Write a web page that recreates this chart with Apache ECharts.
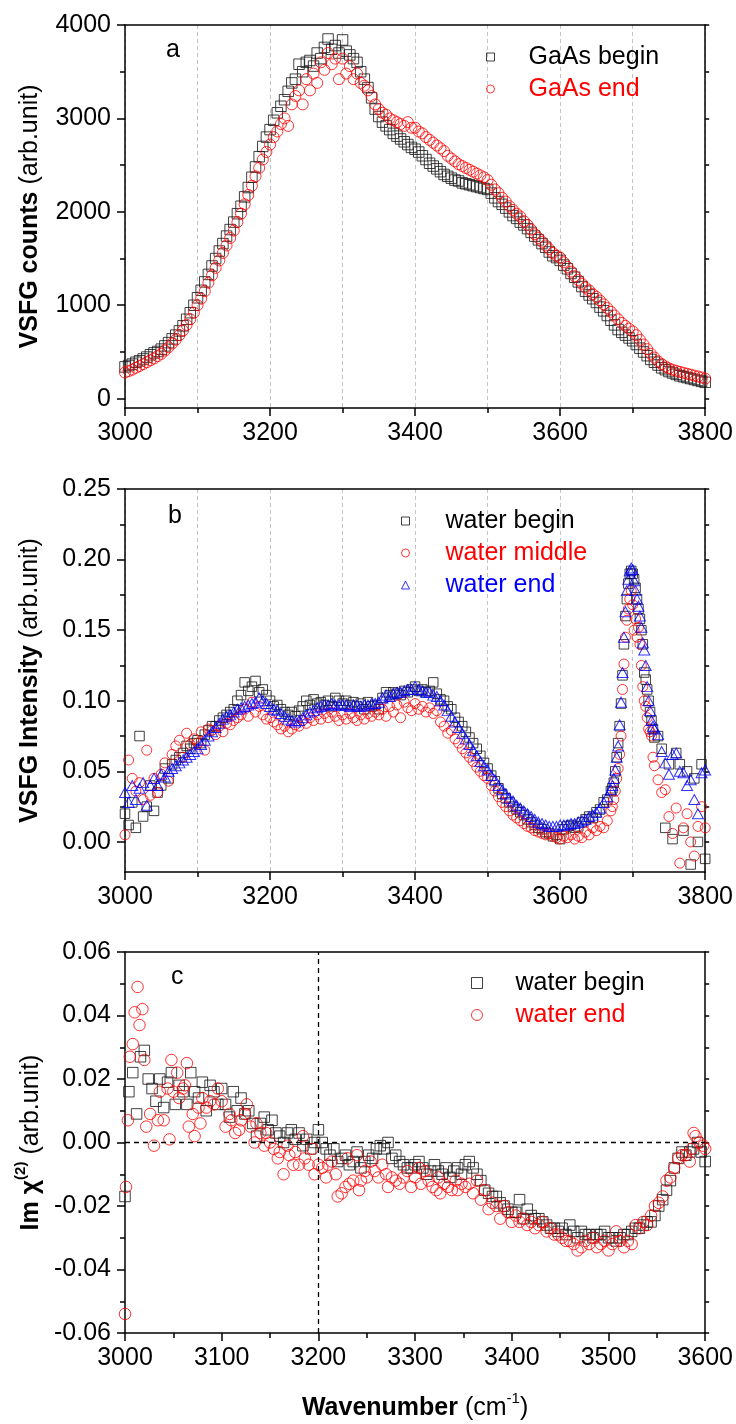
<!DOCTYPE html>
<html><head><meta charset="utf-8">
<script src="https://cdn.jsdelivr.net/npm/echarts@6/dist/echarts.min.js"></script>
<style>html,body{margin:0;padding:0;background:#fff}#c{width:736px;height:1424px}</style>
</head><body><div id="c"></div>
<script>
// ---------- Panel a : GaAs VSFG counts ----------
const waveA = [
3000,3005,3010,3015,3020,3025,3030,3035,3040,3045,3050,3055,3060,3065,3070,3075,3080,3085,3090,3095,
3100,3105,3110,3115,3120,3125,3130,3135,3140,3145,3150,3155,3160,3165,3170,3175,3180,3185,3190,3195,
3200,3205,3210,3215,3220,3225,3230,3235,3240,3245,3250,3255,3260,3265,3270,3275,3280,3285,3290,3295,
3300,3305,3310,3315,3320,3325,3330,3335,3340,3345,3350,3355,3360,3365,3370,3375,3380,3385,3390,3395,
3400,3405,3410,3415,3420,3425,3430,3435,3440,3445,3450,3455,3460,3465,3470,3475,3480,3485,3490,3495,
3500,3505,3510,3515,3520,3525,3530,3535,3540,3545,3550,3555,3560,3565,3570,3575,3580,3585,3590,3595,
3600,3605,3610,3615,3620,3625,3630,3635,3640,3645,3650,3655,3660,3665,3670,3675,3680,3685,3690,3695,
3700,3705,3710,3715,3720,3725,3730,3735,3740,3745,3750,3755,3760,3765,3770,3775,3780,3785,3790,3795,
3800];
const gaasBegin = [
340,355,370,390,405,425,445,470,490,505,530,565,600,640,680,725,780,850,920,1000,
1080,1160,1250,1330,1420,1500,1580,1660,1740,1810,1890,1980,2060,2160,2260,2370,2480,2590,2700,2800,
2880,2980,3060,3130,3200,3290,3380,3420,3580,3500,3600,3620,3560,3700,3640,3760,3850,3740,3780,3700,
3840,3720,3680,3640,3600,3500,3420,3330,3220,3100,3020,2960,2920,2880,2840,2810,2780,2750,2720,2690,
2670,2640,2600,2560,2520,2490,2460,2430,2400,2380,2360,2340,2330,2310,2300,2290,2280,2270,2260,2250,
2240,2200,2150,2110,2080,2040,2000,1960,1930,1890,1860,1820,1780,1740,1700,1660,1620,1570,1530,1510,
1480,1430,1390,1340,1300,1250,1200,1150,1110,1070,1030,980,940,890,840,790,740,710,680,650,
620,580,540,500,460,420,390,360,330,310,290,275,260,245,235,225,215,205,195,185,
175];
const gaasEnd = [
280,295,310,330,350,370,390,410,430,455,480,515,550,590,630,680,730,790,850,920,
1000,1070,1150,1240,1320,1400,1480,1560,1640,1720,1800,1890,1980,2080,2180,2280,2380,2470,2560,2640,
2720,2800,2860,2940,3000,2920,3150,3240,3300,3150,3420,3300,3480,3380,3600,3520,3700,3580,3640,3420,
3640,3480,3560,3420,3480,3380,3350,3300,3240,3150,3100,3060,3040,3000,2980,2960,2940,2920,2960,2900,
2900,2860,2840,2800,2770,2740,2710,2680,2650,2600,2570,2540,2510,2490,2470,2450,2430,2410,2390,2370,
2340,2290,2240,2200,2150,2110,2060,2020,1980,1950,1900,1860,1810,1760,1720,1680,1640,1600,1560,1530,
1510,1460,1410,1360,1310,1270,1230,1190,1160,1120,1090,1050,1010,970,930,890,850,810,780,750,
720,680,630,580,530,480,440,400,370,345,325,310,298,287,277,267,257,247,237,227,
215];

// ---------- Panel b : water VSFG intensity ----------
const waveB = [
3000,3005,3010,3015,3020,3025,3030,3035,3040,3045,3050,3055,3060,3065,3070,3075,3080,3085,3090,3095,
3100,3105,3110,3115,3120,3125,3130,3135,3140,3145,3150,3155,3160,3165,3170,3175,3180,3185,3190,3195,
3200,3205,3210,3215,3220,3225,3230,3235,3240,3245,3250,3255,3260,3265,3270,3275,3280,3285,3290,3295,
3300,3305,3310,3315,3320,3325,3330,3335,3340,3345,3350,3355,3360,3365,3370,3375,3380,3385,3390,3395,
3400,3405,3410,3415,3420,3425,3430,3435,3440,3445,3450,3455,3460,3465,3470,3475,3480,3485,3490,3495,
3500,3505,3510,3515,3520,3525,3530,3535,3540,3545,3550,3555,3560,3565,3570,3575,3580,3585,3590,3595,
3600,3605,3610,3615,3620,3625,3630,3635,3640,3645,3650,3655,3660,3665,3670,
3672,3674,3676,3678,3680,3682,3684,3686,3688,3690,3692,3694,3696,3698,3700,3702,3704,3706,3708,3710,
3712,3714,3716,3718,3720,3722,3724,3726,3728,3730,
3735,3740,3745,3750,3755,3760,3765,3770,3775,3780,3785,3790,3795,3800];
const waterBegin = [
0.020,0.012,0.028,0.010,0.075,0.018,0.025,0.040,0.022,0.035,0.040,0.052,0.045,0.055,0.058,0.060,0.063,0.068,0.066,0.070,
0.072,0.070,0.076,0.079,0.082,0.082,0.086,0.088,0.090,0.092,0.094,0.100,0.104,0.113,0.107,0.110,0.114,0.106,0.108,0.104,
0.100,0.096,0.097,0.094,0.092,0.090,0.092,0.089,0.093,0.096,0.100,0.097,0.101,0.098,0.099,0.097,0.100,0.096,0.102,0.100,
0.098,0.100,0.097,0.099,0.096,0.098,0.094,0.099,0.096,0.097,0.094,0.102,0.106,0.104,0.106,0.105,0.104,0.107,0.106,0.108,
0.110,0.107,0.108,0.106,0.107,0.113,0.105,0.101,0.100,0.096,0.094,0.088,0.085,0.082,0.078,0.074,0.070,0.066,0.061,0.056,
0.052,0.047,0.043,0.038,0.034,0.031,0.028,0.025,0.023,0.021,0.019,0.016,0.014,0.012,0.010,0.009,0.007,0.006,0.004,0.005,
0.002,0.009,0.011,0.012,0.010,0.011,0.014,0.016,0.018,0.017,0.021,0.023,0.028,0.030,0.036,
0.038,0.042,0.050,0.060,0.070,0.082,0.098,0.118,0.140,0.160,0.172,0.183,0.190,0.192,0.190,0.186,0.180,0.172,0.165,0.158,
0.150,0.140,0.120,0.115,0.108,0.100,0.092,0.086,0.080,0.074,
0.075,0.066,0.010,0.055,0.002,0.063,0.055,0.008,0.050,-0.016,0.045,0.000,0.055,-0.012];
const waterMiddle = [
0.005,0.058,0.045,0.036,0.042,0.030,0.065,0.033,0.045,0.035,0.048,0.056,0.043,0.062,0.068,0.072,0.060,0.077,0.069,0.073,
0.070,0.078,0.065,0.080,0.079,0.076,0.082,0.078,0.084,0.083,0.086,0.088,0.090,0.094,0.089,0.099,0.092,0.096,0.090,0.087,
0.088,0.085,0.083,0.080,0.082,0.078,0.080,0.083,0.082,0.086,0.084,0.088,0.086,0.090,0.087,0.091,0.088,0.092,0.089,0.086,
0.090,0.087,0.091,0.088,0.086,0.090,0.087,0.091,0.089,0.092,0.090,0.094,0.089,0.096,0.092,0.097,0.088,0.099,0.095,0.093,
0.098,0.094,0.096,0.092,0.095,0.091,0.093,0.085,0.082,0.077,0.079,0.073,0.070,0.066,0.063,0.060,0.057,0.053,0.050,0.047,
0.045,0.040,0.036,0.032,0.028,0.025,0.022,0.019,0.017,0.015,0.013,0.011,0.010,0.008,0.007,0.006,0.005,0.006,0.004,0.003,
0.002,0.004,0.003,0.005,0.002,0.004,0.003,0.007,0.005,0.010,0.008,0.011,0.010,0.015,0.022,
0.025,0.030,0.036,0.045,0.052,0.062,0.075,0.108,0.126,0.145,0.157,0.165,0.172,0.178,0.168,0.150,0.158,0.145,0.152,0.140,
0.125,0.110,0.100,0.096,0.088,0.080,0.078,0.075,0.060,0.054,
0.044,0.035,0.037,0.018,0.006,0.024,-0.015,0.010,0.020,0.000,-0.010,0.011,0.025,0.010];
const waterEnd = [
0.035,0.028,0.040,0.030,0.038,0.042,0.026,0.040,0.045,0.040,0.048,0.046,0.050,0.052,0.054,0.056,0.058,0.060,0.062,0.064,
0.066,0.069,0.072,0.075,0.078,0.081,0.084,0.087,0.089,0.090,0.092,0.094,0.095,0.096,0.097,0.098,0.099,0.102,0.100,0.098,
0.096,0.094,0.093,0.091,0.089,0.087,0.086,0.085,0.086,0.088,0.090,0.092,0.093,0.095,0.096,0.097,0.097,0.098,0.097,0.097,
0.097,0.097,0.096,0.097,0.097,0.096,0.097,0.097,0.098,0.098,0.099,0.102,0.104,0.103,0.105,0.106,0.106,0.107,0.108,0.108,
0.110,0.108,0.107,0.106,0.106,0.104,0.103,0.100,0.097,0.093,0.089,0.085,0.081,0.077,0.073,0.069,0.065,0.061,0.057,0.054,
0.051,0.047,0.044,0.040,0.037,0.034,0.031,0.029,0.026,0.024,0.022,0.020,0.018,0.016,0.014,0.013,0.012,0.011,0.011,0.011,
0.012,0.012,0.012,0.013,0.013,0.014,0.015,0.016,0.018,0.019,0.021,0.024,0.028,0.032,0.037,
0.040,0.045,0.051,0.060,0.068,0.083,0.099,0.120,0.145,0.163,0.178,0.186,0.192,0.194,0.193,0.185,0.178,0.172,0.167,0.160,
0.152,0.141,0.136,0.125,0.110,0.100,0.093,0.086,0.082,0.080,
0.076,0.064,0.056,0.048,0.062,0.063,0.050,0.049,0.040,0.044,0.030,0.020,0.049,0.051];

// ---------- Panel c : Im chi(2), [wavenumber, value] ----------
const imChiBegin = [
[3000,-0.017],[3004,0.016],[3008,0.022],[3012,0.009],[3016,0.027],[3020,0.029],[3024,0.020],[3028,0.017],[3032,0.013],[3036,0.020],
[3040,0.011],[3044,0.019],[3048,0.022],[3052,0.012],[3056,0.018],[3060,0.016],[3064,0.012],[3068,0.022],[3072,0.016],[3076,0.014],
[3080,0.019],[3084,0.010],[3088,0.018],[3092,0.016],[3096,0.012],[3100,0.017],[3104,0.012],[3108,0.008],[3112,0.016],[3116,0.010],
[3120,0.014],[3124,0.009],[3128,0.010],[3132,0.006],[3136,0.002],[3140,0.006],[3144,0.008],[3148,0.004],[3152,0.007],[3156,0.003],
[3160,0.002],[3164,0.000],[3168,0.003],[3172,0.004],[3176,0.001],[3180,0.003],[3184,-0.001],[3188,0.001],[3192,-0.002],[3196,0.000],
[3200,0.004],[3204,0.000],[3208,-0.002],[3212,-0.004],[3216,-0.002],[3220,-0.006],[3224,-0.005],[3228,-0.004],[3232,-0.007],[3236,-0.006],
[3240,-0.003],[3244,-0.008],[3248,-0.006],[3252,-0.004],[3256,-0.005],[3260,-0.002],[3264,-0.001],[3268,-0.002],[3272,0.000],[3276,-0.005],
[3280,-0.004],[3284,-0.006],[3288,-0.007],[3292,-0.008],[3296,-0.008],[3300,-0.007],[3304,-0.006],[3308,-0.008],[3312,-0.010],[3316,-0.009],
[3320,-0.007],[3324,-0.009],[3328,-0.010],[3332,-0.008],[3336,-0.011],[3340,-0.009],[3344,-0.008],[3348,-0.010],[3352,-0.007],[3356,-0.006],
[3360,-0.008],[3364,-0.010],[3368,-0.012],[3372,-0.015],[3376,-0.016],[3380,-0.017],[3384,-0.017],[3388,-0.019],[3392,-0.020],[3396,-0.021],
[3400,-0.022],[3404,-0.022],[3408,-0.018],[3412,-0.024],[3416,-0.021],[3420,-0.023],[3424,-0.024],[3428,-0.024],[3432,-0.025],[3436,-0.026],
[3440,-0.027],[3444,-0.027],[3448,-0.028],[3452,-0.027],[3456,-0.029],[3460,-0.026],[3464,-0.028],[3468,-0.030],[3472,-0.028],[3476,-0.029],
[3480,-0.029],[3484,-0.030],[3488,-0.029],[3492,-0.029],[3496,-0.028],[3500,-0.030],[3504,-0.030],[3508,-0.031],[3512,-0.030],[3516,-0.029],
[3520,-0.029],[3524,-0.028],[3528,-0.027],[3532,-0.027],[3536,-0.026],[3540,-0.025],[3544,-0.025],[3548,-0.023],[3552,-0.020],[3556,-0.018],
[3560,-0.015],[3564,-0.012],[3568,-0.008],[3572,-0.005],[3576,-0.003],[3580,-0.004],[3584,-0.003],[3588,-0.002],[3592,0.000],[3596,-0.003],
[3600,-0.006]];
const imChiEnd = [
[3000,-0.054],[3001,-0.014],[3003,0.007],[3005,0.027],[3008,0.031],[3010,0.041],[3013,0.049],[3015,0.037],[3018,0.042],[3020,0.026],
[3022,0.005],[3026,0.009],[3030,-0.001],[3034,0.007],[3036,0.016],[3040,0.007],[3044,0.017],[3046,0.001],[3048,0.026],[3050,0.016],
[3054,0.022],[3056,0.014],[3060,0.017],[3062,0.018],[3064,0.025],[3066,0.005],[3070,0.009],[3072,0.002],[3076,0.011],[3078,0.006],
[3080,0.014],[3084,0.011],[3088,0.013],[3092,0.012],[3096,0.017],[3100,0.013],[3104,0.005],[3108,0.009],[3110,0.007],[3114,0.003],
[3118,0.004],[3120,0.007],[3124,0.009],[3126,0.012],[3130,0.005],[3134,0.000],[3136,0.006],[3140,0.003],[3144,-0.001],[3146,0.003],
[3150,0.000],[3154,-0.002],[3158,-0.005],[3160,-0.003],[3164,-0.010],[3168,-0.001],[3170,-0.004],[3174,-0.007],[3176,-0.003],[3180,-0.007],
[3184,0.002],[3186,-0.005],[3190,-0.007],[3194,-0.002],[3196,-0.010],[3200,-0.007],[3204,-0.008],[3208,-0.011],[3210,-0.007],[3214,-0.006],
[3218,-0.010],[3220,-0.017],[3224,-0.016],[3228,-0.014],[3230,-0.005],[3232,-0.013],[3236,-0.012],[3240,-0.004],[3242,-0.015],[3244,-0.012],
[3248,-0.009],[3250,-0.011],[3254,-0.006],[3258,-0.009],[3262,-0.011],[3266,-0.007],[3270,-0.010],[3272,-0.014],[3276,-0.011],[3280,-0.012],
[3284,-0.013],[3288,-0.011],[3292,-0.009],[3296,-0.014],[3300,-0.011],[3304,-0.008],[3306,-0.013],[3310,-0.009],[3314,-0.012],[3318,-0.014],
[3322,-0.015],[3324,-0.011],[3326,-0.016],[3330,-0.013],[3334,-0.014],[3338,-0.015],[3342,-0.012],[3344,-0.015],[3348,-0.013],[3352,-0.014],
[3356,-0.013],[3360,-0.016],[3364,-0.012],[3368,-0.018],[3372,-0.015],[3376,-0.021],[3380,-0.019],[3384,-0.020],[3388,-0.024],[3392,-0.020],
[3396,-0.022],[3400,-0.025],[3404,-0.023],[3408,-0.025],[3412,-0.024],[3416,-0.026],[3420,-0.025],[3424,-0.027],[3428,-0.026],[3432,-0.025],
[3436,-0.028],[3440,-0.027],[3444,-0.029],[3448,-0.029],[3452,-0.030],[3456,-0.031],[3460,-0.031],[3464,-0.032],[3468,-0.034],[3472,-0.033],
[3476,-0.031],[3480,-0.032],[3484,-0.030],[3488,-0.033],[3492,-0.032],[3496,-0.031],[3500,-0.034],[3504,-0.032],[3508,-0.028],[3512,-0.031],
[3516,-0.033],[3520,-0.031],[3524,-0.032],[3528,-0.026],[3532,-0.027],[3536,-0.025],[3540,-0.026],[3544,-0.023],[3548,-0.020],[3552,-0.019],
[3556,-0.017],[3560,-0.012],[3564,-0.011],[3568,-0.008],[3572,-0.005],[3576,-0.004],[3580,-0.004],[3584,-0.006],[3586,-0.002],[3588,0.003],
[3590,0.002],[3594,0.000],[3598,-0.001],[3600,-0.002]];
const refLineX = 3200, refLineY = 0;

// ---------- tick values ----------
const yTicksA = [0,1000,2000,3000,4000];
const yMinorA = [500,1500,2500,3500];
const yTicksB = [0,0.05,0.10,0.15,0.20,0.25];
const yMinorB = [0.025,0.075,0.125,0.175,0.225];
const yTicksC = [-0.06,-0.04,-0.02,0,0.02,0.04,0.06];
const yMinorC = [-0.05,-0.03,-0.01,0.01,0.03,0.05];

const FONT = '"Liberation Sans", Arial, Helvetica, sans-serif';
const BLACK = '#000', RED = '#ff0000', BLUE = '#0000ff';

const grids = [
  {left:125, top:25, width:581, height:383},
  {left:125, top:489, width:581, height:383},
  {left:125, top:952, width:581, height:381}
];
const panels = [
  {xMin:3000,xMax:3800,xMajor:200,xMinor:100,yMin:-100,yMax:4000,yT:yTicksA,yM:yMinorA,fmt:v=>String(v),grid:true,
   yName:'{b|VSFG counts}{n| (arb.unit)}', yGap:82},
  {xMin:3000,xMax:3800,xMajor:200,xMinor:100,yMin:-0.0213,yMax:0.25,yT:yTicksB,yM:yMinorB,fmt:v=>v.toFixed(2),grid:true,
   yName:'{b|VSFG Intensity}{n| (arb.unit)}', yGap:82},
  {xMin:3000,xMax:3600,xMajor:100,xMinor:50,yMin:-0.06,yMax:0.06,yT:yTicksC,yM:yMinorC,fmt:v=>v.toFixed(2),grid:false,
   yName:'{b|Im χ}{s|(2)}{n| (arb.unit)}', yGap:76, xName:'{b|Wavenumber}{n| (cm}{s|-1}{n|)}'}
];
const richName = {
  b:{fontFamily:FONT,fontSize:25,fontWeight:'bold',color:BLACK,lineHeight:30,verticalAlign:'bottom'},
  n:{fontFamily:FONT,fontSize:25,color:BLACK,lineHeight:30,verticalAlign:'bottom'},
  s:{fontFamily:FONT,fontSize:15,fontWeight:'bold',color:BLACK,lineHeight:30,verticalAlign:'top'}
};
const richX = {
  b:{fontFamily:FONT,fontSize:25,fontWeight:'bold',color:BLACK,lineHeight:30,verticalAlign:'bottom'},
  n:{fontFamily:FONT,fontSize:25,color:BLACK,lineHeight:30,verticalAlign:'bottom'},
  s:{fontFamily:FONT,fontSize:15,color:BLACK,lineHeight:30,verticalAlign:'top'}
};

const xAxis = [], yAxis = [];
panels.forEach((p,g)=>{
  const line = {show:true,onZero:false,lineStyle:{color:BLACK,width:1.5}};
  xAxis.push({type:'value',gridIndex:g,position:'bottom',min:p.xMin,max:p.xMax,interval:p.xMajor,
    axisLine:line,axisTick:{show:true,inside:false,length:8,lineStyle:{color:BLACK,width:1.5}},
    axisLabel:{show:true,margin:13,fontSize:25,fontFamily:FONT,color:BLACK,showMinLabel:true,showMaxLabel:true,hideOverlap:false,
      formatter:v=>String(v)},
    splitLine:{show:false},
    name:p.xName||'',nameLocation:'middle',nameGap:58,nameTextStyle:{rich:richX}});
  xAxis.push({type:'value',gridIndex:g,position:'bottom',min:p.xMin,max:p.xMax,interval:p.xMinor,
    axisLine:{show:false,onZero:false},axisTick:{show:true,length:5,lineStyle:{color:BLACK,width:1.5}},
    axisLabel:{show:false},
    splitLine:{show:p.grid,lineStyle:{color:'#c4c4c4',width:1,type:[4,3]}}});
  xAxis.push({type:'value',gridIndex:g,position:'top',min:p.xMin,max:p.xMax,
    axisLine:line,axisTick:{show:false},axisLabel:{show:false},splitLine:{show:false}});

  yAxis.push({type:'value',gridIndex:g,position:'left',min:p.yMin,max:p.yMax,
    axisLine:line,axisTick:{show:true,length:8,customValues:p.yT,lineStyle:{color:BLACK,width:1.5}},
    axisLabel:{show:true,margin:14,customValues:p.yT,formatter:p.fmt,fontSize:25,fontFamily:FONT,color:BLACK},
    splitLine:{show:false},
    name:p.yName,nameLocation:'middle',nameRotate:90,nameGap:p.yGap,nameTextStyle:{rich:richName}});
  yAxis.push({type:'value',gridIndex:g,position:'left',min:p.yMin,max:p.yMax,
    axisLine:{show:false,onZero:false},axisTick:{show:true,length:5,customValues:p.yM,lineStyle:{color:BLACK,width:1.5}},
    axisLabel:{show:false},splitLine:{show:false}});
  yAxis.push({type:'value',gridIndex:g,position:'right',min:p.yMin,max:p.yMax,
    axisLine:line,axisTick:{show:true,length:4,customValues:p.yT.concat(p.yM),lineStyle:{color:BLACK,width:1.5}},
    axisLabel:{show:false},splitLine:{show:false}});
});

function pairs(xs, ys){ return xs.map((x,i)=>[x, ys[i]]); }
function sc(name, g, data, symbol, size, color, extra){
  return Object.assign({type:'scatter',name:name,xAxisIndex:3*g,yAxisIndex:3*g,data:data,symbol:symbol,symbolSize:size,
    itemStyle:{color:'rgba(0,0,0,0)',borderColor:color,borderWidth:1},silent:true,animation:false,
    emphasis:{disabled:true}}, extra||{});
}
const series = [
  sc('GaAs begin',0,pairs(waveA,gaasBegin),'rect',10.5,'#111'),
  sc('GaAs end',0,pairs(waveA,gaasEnd),'circle',11,RED),
  sc('water begin',1,pairs(waveB,waterBegin),'rect',9.5,'#111'),
  sc('water middle',1,pairs(waveB,waterMiddle),'circle',10,RED),
  sc('water end',1,pairs(waveB,waterEnd),'triangle',[11,10],BLUE),
  sc('c water begin',2,imChiBegin,'rect',10.5,'#111',{markLine:{silent:true,symbol:['none','none'],label:{show:false},
    lineStyle:{color:BLACK,width:1.3,type:[5,4]},animation:false,data:[{xAxis:refLineX},{yAxis:refLineY}]}}),
  sc('c water end',2,imChiEnd,'circle',11.5,RED)
];

const labelOf = {'GaAs begin':'GaAs begin','GaAs end':'GaAs end','water begin':'water begin','water middle':'water middle',
  'water end':'water end','c water begin':'water begin','c water end':'water end'};
function legend(left, top, gap, size, items){
  return {show:true,orient:'vertical',left:left,top:top,padding:0,itemWidth:size,itemHeight:size,itemGap:0,selectedMode:false,
    itemStyle:{borderWidth:1},
    data:items.map(it=>({name:it[0],textStyle:{color:it[1]}})),
    formatter:n=>'{g| }'+labelOf[n],
    textStyle:{fontFamily:FONT,fontSize:25,lineHeight:32,rich:{g:{width:gap}}}};
}

const chart = echarts.init(document.getElementById('c'), null, {renderer:'canvas'});
chart.setOption({
  animation:false,
  backgroundColor:'#ffffff',
  grid:grids,
  xAxis:xAxis,
  yAxis:yAxis,
  title:[
    {text:'a',left:166,top:38,padding:0,textStyle:{fontFamily:FONT,fontSize:25,fontWeight:'normal',color:BLACK}},
    {text:'b',left:168,top:504,padding:0,textStyle:{fontFamily:FONT,fontSize:25,fontWeight:'normal',color:BLACK}},
    {text:'c',left:171,top:965,padding:0,textStyle:{fontFamily:FONT,fontSize:25,fontWeight:'normal',color:BLACK}}
  ],
  legend:[
    legend(486,41,29,8,[['GaAs begin',BLACK],['GaAs end',RED]]),
    legend(401,505,31,8,[['water begin',BLACK],['water middle',RED],['water end',BLUE]]),
    legend(471,967,28,11,[['c water begin',BLACK],['c water end',RED]])
  ],
  series:series
});
</script>
</body></html>
